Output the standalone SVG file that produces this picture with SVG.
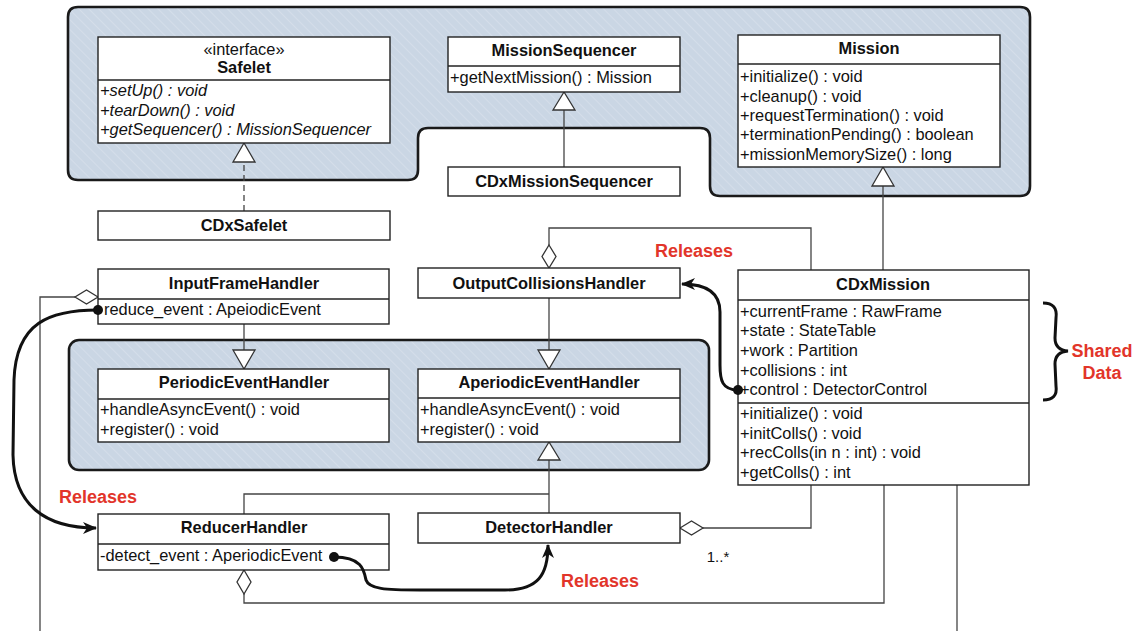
<svg xmlns="http://www.w3.org/2000/svg" width="1137" height="631" viewBox="0 0 1137 631">
<defs>
<pattern id="hatch" patternUnits="userSpaceOnUse" width="7" height="7" patternTransform="rotate(-45)">
<rect width="7" height="7" fill="#cad6e4"/>
<line x1="0" y1="0" x2="0" y2="7" stroke="#dbe3ed" stroke-width="1.2"/>
</pattern>
<marker id="arr" markerWidth="14" markerHeight="12" refX="13" refY="6" orient="auto" markerUnits="userSpaceOnUse">
<path d="M0,0 L14,6 L0,12 L4,6 Z" fill="#111"/>
</marker>
</defs>
<style>
.pkg{fill:url(#hatch);stroke:#1a1a1a;stroke-width:2.6}
.box{fill:#fff;stroke:#222;stroke-width:1.4}
.sep{stroke:#222;stroke-width:1.4}
.t{font-family:"Liberation Sans",Arial,sans-serif;font-size:16.4px;fill:#111}
.b{font-weight:bold;text-anchor:middle;font-size:16.4px}
.i{font-style:italic}
.c{text-anchor:middle}
.rel{font-family:"Liberation Sans",Arial,sans-serif;font-size:18px;font-weight:bold;fill:#e2352a;text-anchor:middle}
.ln{fill:none;stroke:#444;stroke-width:1.3}
.tri{fill:#fff;stroke:#333;stroke-width:1.3}
.bold{fill:none;stroke:#111;stroke-width:3}
</style>

<g id="packages">
<path class="pkg" d="M78,7 H1020 Q1030,7 1030,17 V186 Q1030,196 1020,196 H720 Q710,196 710,186 V138 Q710,128 700,128 H428 Q418,128 418,138 V170 Q418,180 408,180 H78 Q68,180 68,170 V17 Q68,7 78,7 Z"/>
<rect class="pkg" x="69" y="340" width="640" height="130" rx="10"/>
</g>

<g id="connectors">
<line class="ln" x1="244" y1="211" x2="244" y2="162" stroke-dasharray="6,4" stroke="#666"/>
<polygon class="tri" points="244,143 233,162 255,162"/>
<line class="ln" x1="564" y1="167" x2="564" y2="110"/>
<polygon class="tri" points="564,92 553,110 575,110"/>
<line class="ln" x1="883" y1="270" x2="883" y2="186"/>
<polygon class="tri" points="883,167 872,186 894,186"/>
<polyline class="ln" points="811,270 811,228 549,228 549,245"/>
<polygon class="tri" points="549,245 556,256.5 549,268 542,256.5"/>
<line class="ln" x1="549" y1="298" x2="549" y2="350"/>
<polygon class="tri" points="549,369 538,350 560,350"/>
<line class="ln" x1="244" y1="324" x2="244" y2="350"/>
<polygon class="tri" points="244,369 233,350 255,350"/>
<polyline class="ln" points="75,297 40,297 40,631"/>
<polygon class="tri" points="98,297 86.5,290 75,297 86.5,304"/>
<line class="ln" x1="549" y1="460" x2="549" y2="513"/>
<polyline class="ln" points="244,514 244,494 549,494"/>
<polygon class="tri" points="549,442 538,460 560,460"/>
<polyline class="ln" points="244,594 244,603 884,603 884,485"/>
<polygon class="tri" points="244,570 251,582 244,594 237,582"/>
<polyline class="ln" points="703,528 811,528 811,485"/>
<polygon class="tri" points="680,528 691.5,521 703,528 691.5,535"/>
<line class="ln" x1="957" y1="485" x2="957" y2="631"/>
<text class="t" x="718" y="562" style="font-size:15px" text-anchor="middle">1..*</text>
<path class="bold" d="M1043,303 Q1058,303 1056,318 L1055,338 Q1055,350 1068,351 Q1055,352 1055,364 L1056,386 Q1058,400 1043,400"/>
<text class="rel" x="98" y="503">Releases</text>
<text class="rel" x="600" y="587">Releases</text>
<text class="rel" x="694" y="257">Releases</text>
<text class="rel" x="1102" y="357">Shared</text>
<text class="rel" x="1102" y="379">Data</text>
</g>

<g id="Safelet">
<rect class="box" x="98" y="37" width="292" height="106"/>
<line class="sep" x1="98" y1="80" x2="390" y2="80"/>
<text class="t c" x="244" y="55">«interface»</text>
<text class="t b" x="244" y="73">Safelet</text>
<text class="t i" x="100" y="96">+setUp() : void</text>
<text class="t i" x="100" y="116">+tearDown() : void</text>
<text class="t i" x="100" y="135">+getSequencer() : MissionSequencer</text>
</g>

<g id="CDxSafelet">
<rect class="box" x="98" y="211" width="292" height="29"/>
<text class="t b" x="244" y="231">CDxSafelet</text>
</g>

<g id="MissionSequencer">
<rect class="box" x="448" y="37" width="232" height="55"/>
<line class="sep" x1="448" y1="66" x2="680" y2="66"/>
<text class="t b" x="564" y="56">MissionSequencer</text>
<text class="t" x="450" y="83">+getNextMission() : Mission</text>
</g>

<g id="CDxMissionSequencer">
<rect class="box" x="448" y="167" width="232" height="29"/>
<text class="t b" x="564" y="187">CDxMissionSequencer</text>
</g>

<g id="Mission">
<rect class="box" x="738" y="35" width="262" height="132"/>
<line class="sep" x1="738" y1="64" x2="1000" y2="64"/>
<text class="t b" x="869" y="54">Mission</text>
<text class="t" x="740" y="82">+initialize() : void</text>
<text class="t" x="740" y="102">+cleanup() : void</text>
<text class="t" x="740" y="121">+requestTermination() : void</text>
<text class="t" x="740" y="140">+terminationPending() : boolean</text>
<text class="t" x="740" y="160">+missionMemorySize() : long</text>
</g>

<g id="InputFrameHandler">
<rect class="box" x="98" y="269" width="291" height="55"/>
<line class="sep" x1="98" y1="299" x2="389" y2="299"/>
<text class="t b" x="244" y="289">InputFrameHandler</text>
<text class="t" x="104" y="315">reduce_event : ApeiodicEvent</text>
</g>

<g id="OutputCollisionsHandler">
<rect class="box" x="418" y="268" width="262" height="30"/>
<text class="t b" x="549" y="289">OutputCollisionsHandler</text>
</g>

<g id="CDxMission">
<rect class="box" x="738" y="270" width="291" height="215"/>
<line class="sep" x1="738" y1="300" x2="1029" y2="300"/>
<line class="sep" x1="738" y1="403" x2="1029" y2="403"/>
<text class="t b" x="883" y="290">CDxMission</text>
<text class="t" x="740" y="317">+currentFrame : RawFrame</text>
<text class="t" x="740" y="336">+state : StateTable</text>
<text class="t" x="740" y="356">+work : Partition</text>
<text class="t" x="740" y="376">+collisions : int</text>
<text class="t" x="740" y="395">+control : DetectorControl</text>
<text class="t" x="740" y="419">+initialize() : void</text>
<text class="t" x="740" y="439">+initColls() : void</text>
<text class="t" x="740" y="458">+recColls(in n : int) : void</text>
<text class="t" x="740" y="478">+getColls() : int</text>
</g>

<g id="PeriodicEventHandler">
<rect class="box" x="98" y="369" width="291" height="73"/>
<line class="sep" x1="98" y1="399" x2="389" y2="399"/>
<text class="t b" x="244" y="388">PeriodicEventHandler</text>
<text class="t" x="100" y="415">+handleAsyncEvent() : void</text>
<text class="t" x="100" y="435">+register() : void</text>
</g>

<g id="AperiodicEventHandler">
<rect class="box" x="418" y="369" width="262" height="73"/>
<line class="sep" x1="418" y1="398" x2="680" y2="398"/>
<text class="t b" x="549" y="388">AperiodicEventHandler</text>
<text class="t" x="420" y="415">+handleAsyncEvent() : void</text>
<text class="t" x="420" y="435">+register() : void</text>
</g>

<g id="ReducerHandler">
<rect class="box" x="98" y="514" width="291" height="56"/>
<line class="sep" x1="98" y1="544" x2="389" y2="544"/>
<text class="t b" x="244" y="533">ReducerHandler</text>
<text class="t" x="100" y="561">-detect_event : AperiodicEvent</text>
</g>

<g id="DetectorHandler">
<rect class="box" x="418" y="513" width="262" height="30"/>
<text class="t b" x="549" y="533">DetectorHandler</text>
</g>

<g id="releases-connectors">
<path class="bold" d="M98,310 C50,310 16,322 14,380 L13,455 C14,505 45,528 96,528" marker-end="url(#arr)"/>
<circle cx="98" cy="310" r="5" fill="#111"/>
<path class="bold" d="M334,557 C362,557 364,570 366,580 C369,589 385,590 420,590 L505,590 C538,590 548,575 548,545" marker-end="url(#arr)"/>
<circle cx="334" cy="557" r="5" fill="#111"/>
<path class="bold" d="M738,390 C722,390 720,380 720,365 L720,312 C720,292 705,284 682,284" marker-end="url(#arr)"/>
<circle cx="738" cy="390" r="5" fill="#111"/>
</g>
</svg>
